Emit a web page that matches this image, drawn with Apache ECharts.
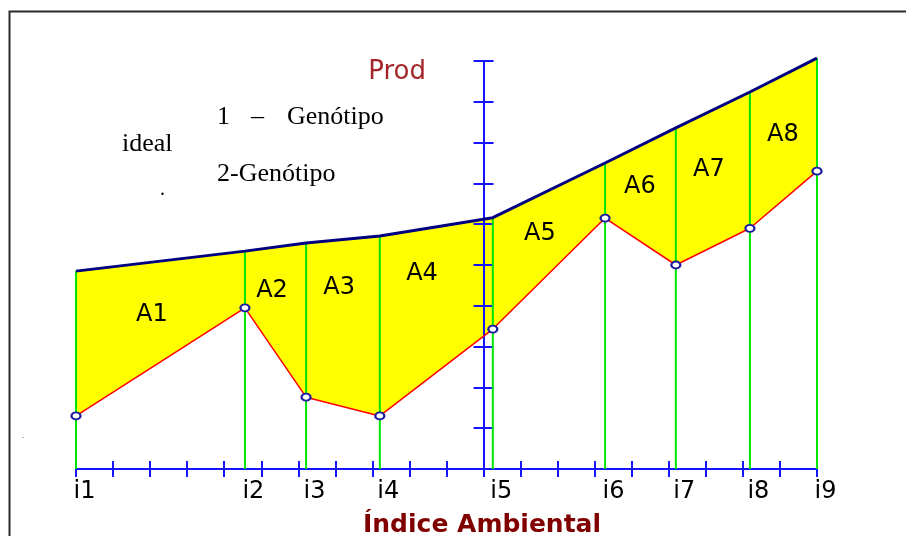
<!DOCTYPE html>
<html lang="pt">

<head>
    <meta charset="UTF-8">
    <title>Prod x Índice Ambiental</title>
    <script src="https://cdn.jsdelivr.net/npm/echarts@6.0.0/dist/echarts.min.js"></script>
    <style>
        html, body { margin: 0; padding: 0; background: #fff; }
        #viz { width: 906px; height: 536px; }
    </style>
</head>

<body>
    <div id="viz"></div>

    <script>
        // environmental index positions (y axis sits at index 0)
        const indexNames = ['i1', 'i2', 'i3', 'i4', 'i5', 'i6', 'i7', 'i8', 'i9'];
        const indexPos = [-11, -6.44, -4.79, -2.8, 0.25, 3.28, 5.19, 7.19, 9];

        // 1 - ideal genotype, 2 - genotype
        const ideal = [4.85, 5.34, 5.54, 5.71, 6.16, 7.5, 8.36, 9.24, 10.07];
        const genotype2 = [1.30, 3.95, 1.76, 1.30, 3.43, 6.15, 5.0, 5.9, 7.3];

        // area labels A1..A8
        const areaNames = ['A1', 'A2', 'A3', 'A4', 'A5', 'A6', 'A7', 'A8'];
        const areaX = [-8.95, -5.71, -3.9, -1.66, 1.52, 4.22, 6.08, 8.08];
        const areaY = [3.77, 4.36, 4.44, 4.78, 5.76, 6.91, 7.33, 8.19];

        const blue = '#1414ff';
        const pixFont = 'DejaVu Sans';
        const serif = '"Liberation Serif", "Times New Roman", serif';

        const pairs = (xs, ys) => xs.map((x, k) => [x, ys[k]]);

        const baseAxis = (position, type) => ({
            type: 'value',
            position,
            min: type === 'x' ? -11 : 0,
            max: type === 'x' ? 9 : 10,
            interval: 1,
            axisLine: {
                show: position === 'bottom' || position === 'left',
                onZero: true,
                onZeroAxisIndex: 0,
                lineStyle: { color: blue, width: 2 }
            },
            axisTick: {
                show: true,
                inside: false,
                length: type === 'x' ? 8 : 10,
                lineStyle: { color: blue, width: 2 }
            },
            axisLabel: { show: false },
            splitLine: { show: false },
            z: 2
        });

        const textEl = (text, x, y, font, fill, align) => ({
            type: 'text',
            x, y,
            z: 10,
            silent: true,
            style: {
                text, font, fill,
                align: align || 'left', textAlign: align || 'left',
                verticalAlign: 'middle', textVerticalAlign: 'middle'
            }
        });

        const option = {
            animation: false,
            backgroundColor: '#fff',
            grid: { left: 76, right: 89, top: 61, bottom: 67, containLabel: false, outerBoundsMode: 'none' },
            xAxis: [baseAxis('bottom', 'x'), baseAxis('top', 'x')],
            yAxis: [baseAxis('left', 'y'), baseAxis('right', 'y')],
            graphic: [
                {
                    type: 'polyline', silent: true, z: 0,
                    shape: { points: [[9.5, 540], [9.5, 11.5], [910, 11.5]] },
                    style: { stroke: '#2a2a2a', lineWidth: 2, fill: null }
                },
                textEl('Prod', 426, 72, '26px "DejaVu Sans"', '#a3262b', 'right'),
                textEl('Índice Ambiental', 363, 525, 'bold 25px "DejaVu Sans"', '#800000'),
                textEl('1', 217, 117, '26px ' + serif, '#000'),
                textEl('–', 251, 117, '26px ' + serif, '#000'),
                textEl('Genótipo', 287, 117, '26px ' + serif, '#000'),
                textEl('ideal', 122, 144, '26px ' + serif, '#000'),
                textEl('2-Genótipo', 217, 174, '26px ' + serif, '#000'),
                textEl('.', 160, 190, '20px ' + serif, '#000'),
                textEl('.', 22, 436, '8px ' + serif, '#000')
            ],
            series: [
                {
                    // yellow area between the two genotypes
                    type: 'custom',
                    silent: true,
                    z: 1,
                    data: [[0, 0]],
                    renderItem: (params, api) => {
                        const top = pairs(indexPos, ideal).map(p => api.coord(p));
                        const bottom = pairs(indexPos, genotype2).map(p => api.coord(p)).reverse();
                        return {
                            type: 'polygon',
                            shape: { points: top.concat(bottom) },
                            style: { fill: '#ffff00', stroke: null }
                        };
                    }
                },
                {
                    // green verticals at each index
                    type: 'custom',
                    silent: true,
                    z: 3,
                    data: pairs(indexPos, ideal),
                    renderItem: (params, api) => {
                        const x = api.value(0);
                        const p0 = api.coord([x, 0]);
                        const p1 = api.coord([x, api.value(1)]);
                        return {
                            type: 'line',
                            shape: { x1: p0[0], y1: p0[1], x2: p1[0], y2: p1[1] },
                            style: { stroke: '#00e600', lineWidth: 2 }
                        };
                    }
                },
                {
                    name: 'Genótipo ideal',
                    type: 'line',
                    silent: true,
                    clip: false,
                    z: 4,
                    symbol: 'none',
                    data: pairs(indexPos, ideal),
                    lineStyle: { color: '#000080', width: 3 }
                },
                {
                    name: 'Genótipo',
                    type: 'line',
                    silent: true,
                    clip: false,
                    z: 5,
                    symbol: 'emptyCircle',
                    symbolSize: [9, 7],
                    data: pairs(indexPos, genotype2),
                    lineStyle: { color: '#ff0000', width: 1.5 },
                    itemStyle: { color: '#1c1ca0', borderWidth: 1.5 }
                },
                {
                    // index tick labels
                    type: 'scatter',
                    silent: true,
                    clip: false,
                    z: 6,
                    symbolSize: 1,
                    itemStyle: { color: 'rgba(0,0,0,0)' },
                    data: indexPos.map((x, k) => ({ value: [x, 0], name: indexNames[k] })),
                    label: {
                        show: true,
                        position: [-2, 11],
                        align: 'left',
                        verticalAlign: 'top',
                        formatter: '{b}',
                        fontFamily: pixFont,
                        fontSize: 24,
                        color: '#000',
                        opacity: 1
                    }
                },
                {
                    // area names
                    type: 'scatter',
                    silent: true,
                    clip: false,
                    z: 6,
                    symbolSize: 1,
                    itemStyle: { color: 'rgba(0,0,0,0)' },
                    data: areaX.map((x, k) => ({ value: [x, areaY[k]], name: areaNames[k] })),
                    label: {
                        show: true,
                        position: 'inside',
                        formatter: '{b}',
                        fontFamily: pixFont,
                        fontSize: 24,
                        color: '#000',
                        opacity: 1
                    }
                }
            ]
        };

        const chart = echarts.init(document.getElementById('viz'), null, { renderer: 'canvas' });
        chart.setOption(option);
        window.onresize = () => chart.resize();
    </script>
</body>

</html>
